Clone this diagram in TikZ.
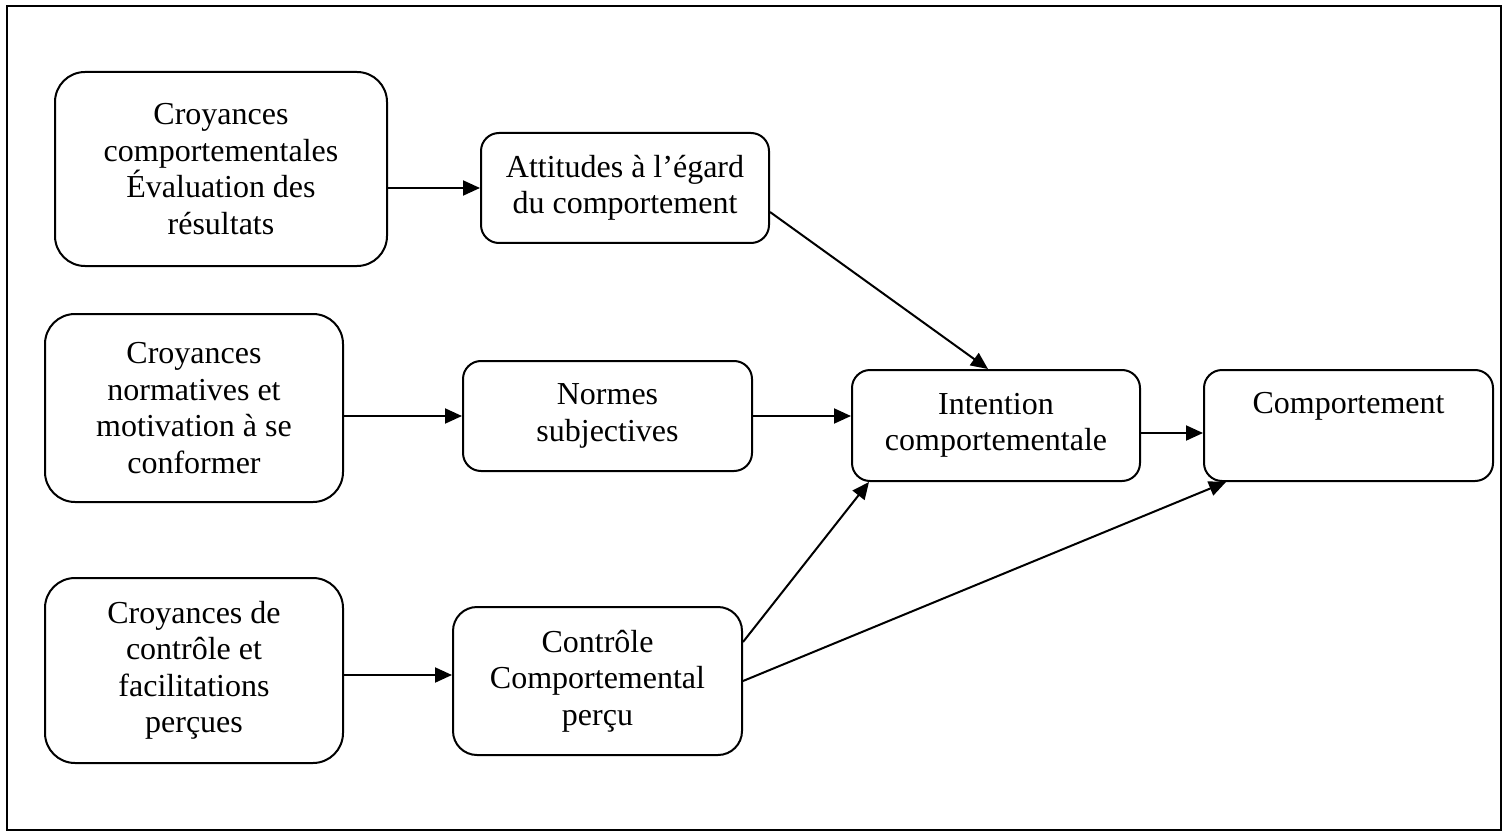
\documentclass[tikz,border=0pt]{standalone}
\usepackage{fontspec}
\setmainfont{Liberation Serif}
\usetikzlibrary{arrows.meta}
\begin{document}
\begin{tikzpicture}[x=1pt,y=-1pt,
  box/.style={draw, line width=2pt, rounded corners=#1, align=center, inner sep=0pt,
    font=\fontsize{32}{36.5}\selectfont},
  box/.default=18pt,
  txt/.style={inner sep=0pt, font=\fontsize{32}{36.5}\selectfont},
  arr/.style={line width=2pt, -{Triangle[length=17pt,width=15pt]}}
]
\useasboundingbox (0,0) rectangle (1503,834);
\draw[line width=2pt] (7,6) rectangle (1501,830);

\node[box=30pt, minimum width=332pt, minimum height=194pt] (b1) at (221,169)
  {Croyances\\comportementales\\Évaluation des\\résultats};
\node[box, minimum width=288pt, minimum height=110pt] (att) at (625,188)
  {Attitudes à l’égard\\du comportement};
\node[box=30pt, minimum width=298pt, minimum height=188pt] (b2) at (194,408)
  {Croyances\\normatives et\\motivation à se\\conformer};
\node[box, minimum width=289pt, minimum height=110pt] (norm) at (607.5,416)
  {Normes\\subjectives};
\node[box=30pt, minimum width=298pt, minimum height=185pt] (b3) at (194,670.5)
  {Croyances de\\contrôle et\\facilitations\\perçues};
\node[box=24pt, minimum width=289pt, minimum height=148pt] (ctrl) at (597.5,681)
  {Contrôle\\Comportemental\\perçu};
\node[box, minimum width=288pt, minimum height=111pt] (int) at (996,425.5)
  {Intention\\comportementale};
\node[box, minimum width=289pt, minimum height=111pt] (comp) at (1348.5,425.5) {};
\node[txt, anchor=base] (compt) at (1348.5,413) {Comportement};

\draw[arr] (b1.east |- att.west) -- (att.west);
\draw[arr] (b2.east |- norm.west) -- (norm.west);
\draw[arr] ([yshift=-4.5pt]b3.east) -- ([yshift=-4.5pt]b3.east -| ctrl.west);
\draw[arr] (norm.east) -- (norm.east -| int.west);
\draw[arr] ([yshift=-7.5pt]int.east) -- ([yshift=-7.5pt]int.east -| comp.west);
\draw[arr] ([yshift=-24pt]att.east) -- ([xshift=-8pt]int.north);
\draw[arr] ([yshift=39pt]ctrl.east) -- ([xshift=18pt]int.south west);
\draw[arr] (ctrl.east) -- ([xshift=23pt]comp.south west);
\end{tikzpicture}
\end{document}
